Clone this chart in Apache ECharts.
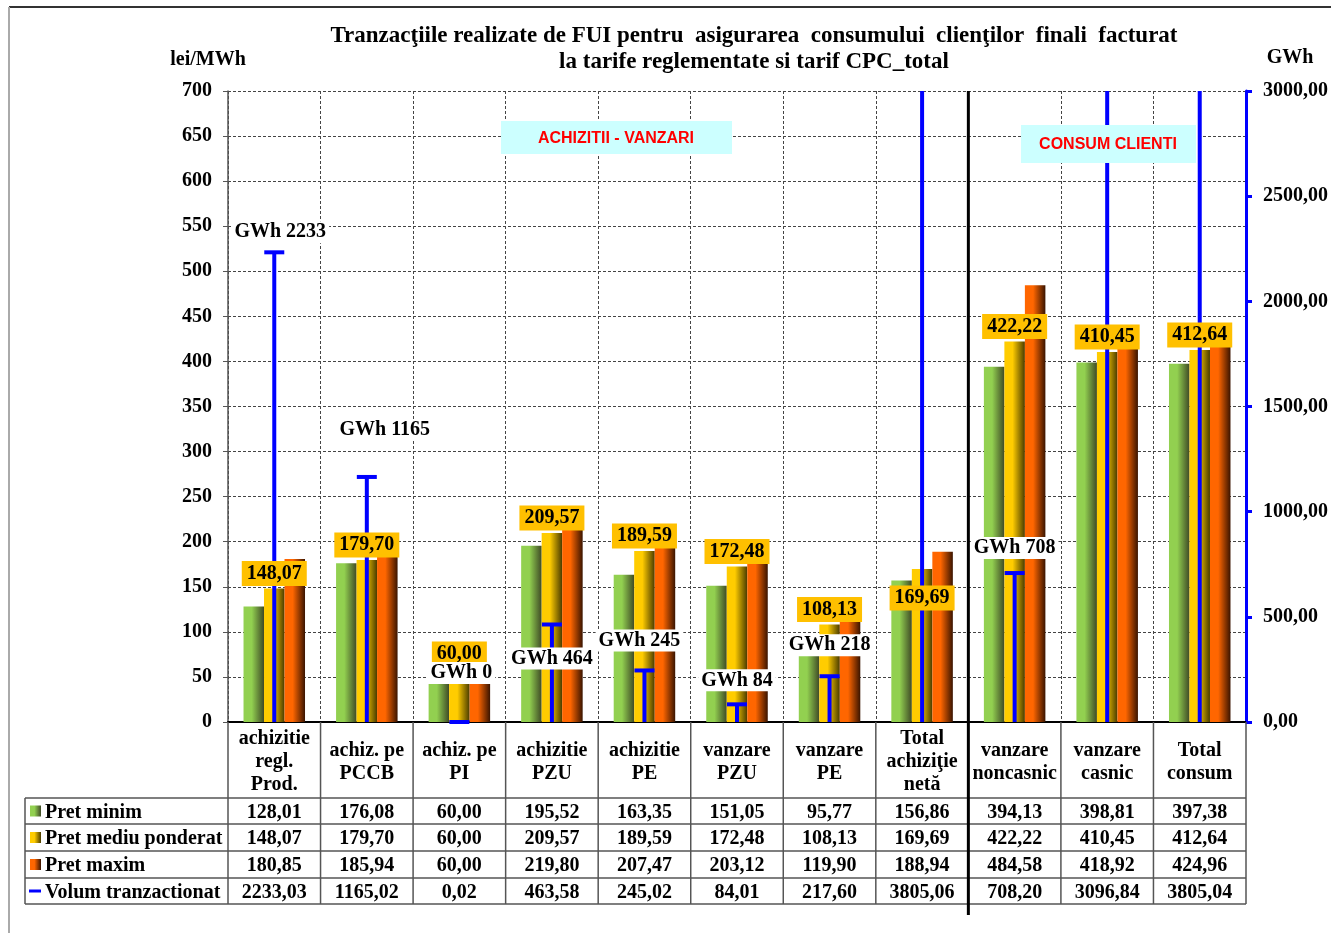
<!DOCTYPE html>
<html>
<head>
<meta charset="utf-8">
<script src="https://cdn.jsdelivr.net/npm/echarts@6/dist/echarts.min.js"></script>
<style>
  html, body { margin: 0; padding: 0; background: #fff; }
  #chart { width: 1331px; height: 933px; }
</style>
</head>
<body>
<div id="chart"></div>
<script>
// --- data ---
const categories = [
    "achizitie\nregl.\nProd.", "achiz. pe\nPCCB", "achiz. pe\nPI", "achizitie\nPZU", "achizitie\nPE",
    "vanzare\nPZU", "vanzare\nPE", "Total\nachiziţie\nnetă", "vanzare\nnoncasnic", "vanzare\ncasnic", "Total\nconsum"
];
const pretMinim = [128.01, 176.08, 60.00, 195.52, 163.35, 151.05, 95.77, 156.86, 394.13, 398.81, 397.38];
const pretMediu = [148.07, 179.70, 60.00, 209.57, 189.59, 172.48, 108.13, 169.69, 422.22, 410.45, 412.64];
const pretMaxim = [180.85, 185.94, 60.00, 219.80, 207.47, 203.12, 119.90, 188.94, 484.58, 418.92, 424.96];
const volum = [2233.03, 1165.02, 0.02, 463.58, 245.02, 84.01, 217.60, 3805.06, 708.20, 3096.84, 3805.04];
const rowNames = ["Pret minim", "Pret mediu ponderat", "Pret maxim", "Volum tranzactionat"];

// label placement (pixels, relative to the mark)
const priceLabelDy = [-15, -15, -14, -15, -15, -15, -15, 29, -15, -15, -15];
const gwhLabelShift = [[6, -20], [18, -47], [2, -49], [0, 34], [-5, -30], [0, -24], [0, -31], null, [0, -25], null, null];

const SERIF = "'Times New Roman', 'Liberation Serif', serif";
const SANS = "Arial, 'Liberation Sans', sans-serif";
const VOL_MAX = 3000;

function fmt(v) {
    return v.toFixed(2).replace(".", ",");
}

function grad(light, dark) {
    return new echarts.graphic.LinearGradient(0, 0, 1, 0, [
        { offset: 0, color: light },
        { offset: 0.4, color: light },
        { offset: 1, color: dark },
    ]);
}
const fillMin = () => grad("#92D050", "#3F4A26");
const fillMed = () => grad("#FFCC00", "#4A3C00");
const fillMax = () => grad("#FF6600", "#3A1400");

const chart = echarts.init(document.getElementById("chart"));

const option = {
    animation: false,
    backgroundColor: "#fff",
    title: {
        text: "Tranzacţiile realizate de FUI pentru  asigurarea  consumului  clienţilor  finali  facturat\nla tarife reglementate si tarif CPC_total",
        left: 749,
        top: 18,
        textAlign: "center",
        textStyle: { fontFamily: SERIF, fontSize: 23, fontWeight: "bold", color: "#000", lineHeight: 26 },
    },
    grid: { left: 228, right: 83, top: 91, bottom: 211 },
    xAxis: {
        type: "category",
        data: categories,
        axisLine: { lineStyle: { color: "#000", width: 2 } },
        axisTick: { show: false },
        axisLabel: {
            interval: 0,
            margin: 40,
            verticalAlign: "middle",
            lineHeight: 23,
            fontFamily: SERIF, fontSize: 20, fontWeight: "bold", color: "#000",
        },
        splitLine: { show: true, interval: 0, lineStyle: { color: "#444", type: [3, 2], width: 1 } },
    },
    yAxis: [
        {
            type: "value", min: 0, max: 700, interval: 50,
            axisLine: { show: true, lineStyle: { color: "#555", width: 1.5 } },
            axisTick: { show: true, length: 5, lineStyle: { color: "#555" } },
            axisLabel: { margin: 16, padding: [4, 0, 0, 0], fontFamily: SERIF, fontSize: 20, fontWeight: "bold", color: "#000" },
            splitLine: { show: true, lineStyle: { color: "#444", type: [3, 2], width: 1 } },
        },
        {
            type: "value", min: 0, max: VOL_MAX, interval: 500, position: "right",
            axisLine: { show: true, lineStyle: { color: "#0000FF", width: 3 } },
            axisTick: { show: true, length: 6, lineStyle: { color: "#0000FF", width: 3 } },
            axisLabel: { margin: 17, padding: [4, 0, 0, 0], formatter: fmt, fontFamily: SERIF, fontSize: 20, fontWeight: "bold", color: "#000" },
            splitLine: { show: false },
        },
    ],
    series: [
        { name: "Pret minim", type: "bar", data: pretMinim, barWidth: 20.5, barGap: "0%", itemStyle: { color: fillMin() } },
        { name: "Pret mediu ponderat", type: "bar", data: pretMediu, barWidth: 20.5, barGap: "0%", itemStyle: { color: fillMed() } },
        { name: "Pret maxim", type: "bar", data: pretMaxim, barWidth: 20.5, barGap: "0%", itemStyle: { color: fillMax() } },
        {
            // volume drawn as a vertical stick with a cap
            name: "Volum tranzactionat",
            type: "custom",
            yAxisIndex: 1,
            z: 3,
            silent: true,
            data: volum.map((v, i) => [i, v]),
            renderItem: function (params, api) {
                const i = api.value(0);
                const v = api.value(1);
                const base = api.coord([i, 0]);
                const top = api.coord([i, Math.min(v, VOL_MAX)]);
                const children = [{
                    type: "line",
                    shape: { x1: base[0], y1: base[1], x2: top[0], y2: top[1] },
                    style: { stroke: "#0000FF", lineWidth: 4 },
                }];
                if (v <= VOL_MAX) {
                    children.push({
                        type: "line",
                        shape: { x1: top[0] - 10, y1: top[1], x2: top[0] + 10, y2: top[1] },
                        style: { stroke: "#0000FF", lineWidth: 4 },
                    });
                }
                return { type: "group", children: children };
            },
        },
        {
            // mean price labels
            type: "custom",
            yAxisIndex: 0,
            z: 4,
            silent: true,
            data: pretMediu.map((v, i) => [i, v]),
            renderItem: function (params, api) {
                const i = api.value(0);
                const v = api.value(1);
                const p = api.coord([i, v]);
                return {
                    type: "text",
                    x: p[0],
                    y: p[1] + priceLabelDy[i],
                    style: {
                        text: fmt(v),
                        font: "bold 20px " + SERIF,
                        fill: "#000",
                        align: "center",
                        verticalAlign: "middle",
                        backgroundColor: "#FFC000",
                        padding: [4, 5, 1, 5],
                    },
                };
            },
        },
        {
            // GWh labels
            type: "custom",
            yAxisIndex: 1,
            z: 5,
            silent: true,
            data: volum.map((v, i) => [i, v]),
            renderItem: function (params, api) {
                const i = api.value(0);
                const v = api.value(1);
                const s = gwhLabelShift[i];
                if (v > VOL_MAX || !s) return null;
                const p = api.coord([i, v]);
                return {
                    type: "text",
                    x: p[0] + s[0],
                    y: p[1] + s[1],
                    style: {
                        text: "GWh " + Math.round(v),
                        font: "bold 20px " + SERIF,
                        fill: "#000",
                        align: "center",
                        verticalAlign: "middle",
                        backgroundColor: "#fff",
                        padding: [2, 3, 0, 3],
                    },
                };
            },
        },
    ],
};
chart.setOption(option);

// --- decorations and data table, placed from the axis scale ---
const c0 = chart.convertToPixel({ xAxisIndex: 0 }, 0);
const c1 = chart.convertToPixel({ xAxisIndex: 0 }, 1);
const step = c1 - c0;
const gl = c0 - step / 2;
const gr = gl + step * categories.length;
const axisY = chart.convertToPixel({ yAxisIndex: 0 }, 0);
const topY = chart.convertToPixel({ yAxisIndex: 0 }, 700);

const tableLeft = 25;
const rowEdges = [798, 824, 851, 878, 904];
const lineColor = "#555";
const g = [];

function line(x1, y1, x2, y2, color, width, z) {
    g.push({ type: "line", z: z || 10, shape: { x1, y1, x2, y2 }, style: { stroke: color, lineWidth: width } });
}
function text(str, x, y, font, align, fill) {
    g.push({ type: "text", z: 10, x, y: y + 1.5, style: { text: str, font, fill: fill || "#000", align: align || "center", verticalAlign: "middle" } });
}

// outer frame
line(9, 7, 1331, 7, "#333", 2, 1);
line(9, 7, 9, 933, "#aaa", 2, 1);

// axis names
text("lei/MWh", 208, 58, "bold 20px " + SERIF);
text("GWh", 1290, 56, "bold 20px " + SERIF);

// text boxes
g.push({ type: "rect", z: 10, shape: { x: 501, y: 121, width: 231, height: 33 }, style: { fill: "#CCFFFF" } });
text("ACHIZITII - VANZARI", 616, 137, "bold 16px " + SANS, "center", "#FF0000");
g.push({ type: "rect", z: 10, shape: { x: 1021, y: 125, width: 175, height: 38 }, style: { fill: "#CCFFFF" } });
text("CONSUM CLIENTI", 1108, 143, "bold 16px " + SANS, "center", "#FF0000");

// table grid
rowEdges.forEach((y) => line(tableLeft, y, gr, y, lineColor, 1.5));
line(tableLeft, rowEdges[0], tableLeft, rowEdges[4], lineColor, 1.5);
for (let k = 0; k <= categories.length; k++) {
    if (k === 8) continue;
    line(gl + k * step, axisY, gl + k * step, rowEdges[4], lineColor, 1.5);
}
// separator between purchases and consumption
line(gl + 8 * step, topY, gl + 8 * step, 915, "#000", 3, 11);

// table values
const rows = [pretMinim, pretMediu, pretMaxim, volum];
rows.forEach((vals, r) => {
    const cy = (rowEdges[r] + rowEdges[r + 1]) / 2;
    text(rowNames[r], 45, cy, "bold 20px " + SERIF, "left");
    vals.forEach((v, i) => text(fmt(v), c0 + i * step, cy, "bold 20px " + SERIF));
});

// legend keys
const keyFills = [fillMin(), fillMed(), fillMax()];
keyFills.forEach((f, r) => {
    const cy = (rowEdges[r] + rowEdges[r + 1]) / 2;
    g.push({ type: "rect", z: 10, shape: { x: 30, y: cy - 5.5, width: 11, height: 11 }, style: { fill: f } });
});
{
    const cy = (rowEdges[3] + rowEdges[4]) / 2;
    g.push({ type: "rect", z: 10, shape: { x: 29, y: cy - 1.5, width: 12, height: 3 }, style: { fill: "#0000FF" } });
}

chart.setOption({ graphic: { elements: g } });
</script>
</body>
</html>
